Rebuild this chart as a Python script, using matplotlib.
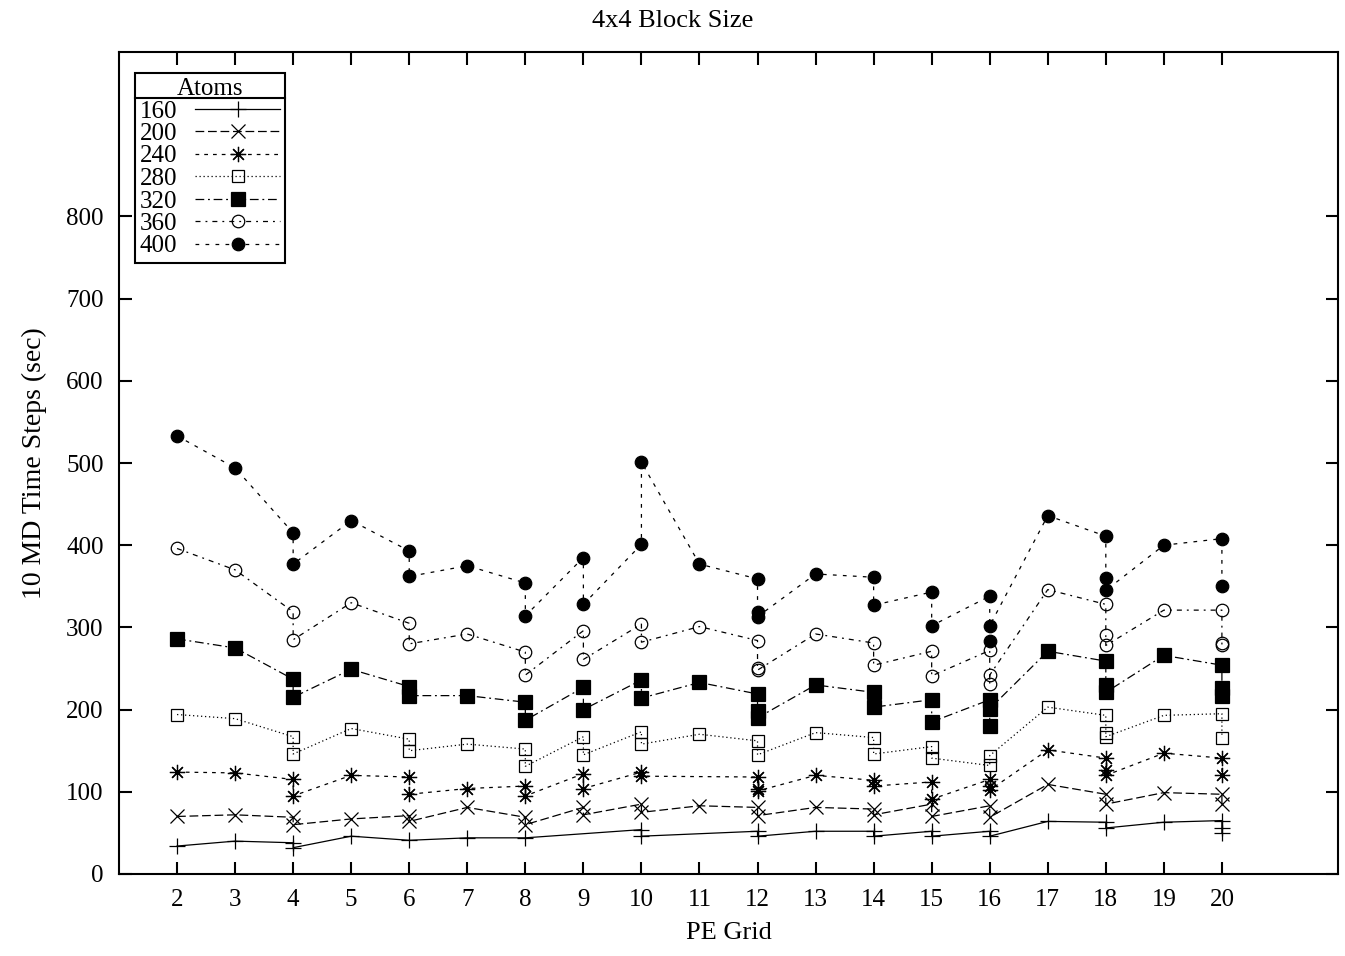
import numpy as np
import matplotlib
matplotlib.use('Agg')
import matplotlib.pyplot as plt
from matplotlib.lines import Line2D

plt.rcParams['font.family'] = ['Liberation Serif', 'DejaVu Serif']

# values, several runs per PE grid size
x160 = [2, 3, 4, 4, 5, 6, 7, 8, 10, 10, 12, 12, 13, 14, 14, 15, 15, 16, 16, 17, 18, 18, 19, 20, 20, 20]
y160 = [34, 40, 38, 32, 46, 41, 44, 44, 54, 46, 52, 46, 52, 52, 46, 52, 46, 52, 46, 64, 63, 56, 63, 65, 56, 50]

x200 = [2, 3, 4, 4, 5, 6, 6, 7, 8, 8, 9, 9, 10, 10, 11, 12, 12, 13, 14, 14, 15, 15, 16, 16, 17, 18, 18, 19, 20, 20]
y200 = [70, 72, 69, 60, 67, 71, 64, 81, 69, 60, 81, 72, 85, 75, 83, 81, 71, 81, 79, 72, 85, 70, 83, 69, 109, 97, 85, 99, 97, 85]

x240 = [2, 3, 4, 4, 5, 6, 6, 7, 8, 8, 9, 9, 10, 10, 12, 12, 12, 13, 14, 14, 15, 15, 16, 16, 16, 17, 18, 18, 18, 19, 20, 20]
y240 = [124, 123, 115, 95, 120, 118, 97, 104, 107, 95, 122, 104, 124, 119, 118, 104, 101, 120, 114, 107, 112, 91,
        115, 107, 102, 151, 141, 126, 120, 147, 141, 120]

x280 = [2, 3, 4, 4, 5, 6, 6, 7, 8, 8, 9, 9, 10, 10, 11, 12, 12, 13, 14, 14, 15, 15, 16, 16, 17, 18, 18, 18, 19, 20, 20]
y280 = [194, 189, 167, 146, 177, 164, 150, 158, 152, 131, 167, 145, 173, 158, 170, 162, 145, 172, 166, 146, 155, 141,
        132, 144, 203, 193, 171, 167, 193, 195, 166]

x320 = [2, 3, 4, 4, 5, 6, 6, 7, 8, 8, 9, 9, 10, 10, 11, 12, 12, 12, 13, 14, 14, 15, 15, 16, 16, 16, 17, 18, 18, 18,
        19, 20, 20, 20]
y320 = [286, 275, 237, 215, 249, 228, 217, 217, 209, 187, 227, 200, 236, 214, 233, 219, 198, 190, 230, 221, 203, 212,
        185, 212, 180, 201, 271, 259, 230, 221, 266, 254, 226, 216]

x360 = [2, 3, 4, 4, 5, 6, 6, 7, 8, 8, 9, 9, 10, 10, 11, 12, 12, 12, 13, 14, 14, 15, 15, 16, 16, 16, 17, 18, 18, 18,
        19, 20, 20, 20]
y360 = [396, 370, 319, 285, 330, 305, 280, 292, 270, 242, 296, 261, 304, 282, 301, 284, 251, 248, 292, 281, 254, 271,
        241, 272, 231, 242, 346, 328, 291, 278, 321, 321, 281, 279]

x400 = [2, 3, 4, 4, 5, 6, 6, 7, 8, 8, 9, 9, 10, 10, 11, 12, 12, 12, 13, 14, 14, 15, 15, 16, 16, 16, 17, 18, 18, 18,
        19, 20, 20]
y400 = [533, 494, 415, 377, 430, 393, 362, 375, 354, 314, 385, 328, 401, 501, 377, 359, 319, 313, 365, 361, 327, 343,
        302, 338, 284, 302, 436, 411, 360, 345, 400, 408, 350]

labels = ['160', '200', '240', '280', '320', '360', '400']
xs = [x160, x200, x240, x280, x320, x360, x400]
ys = [y160, y200, y240, y280, y320, y360, y400]

# gnuplot-ish point types and dash patterns
markers = ['+', 'x', (8, 2, 0), 's', 's', 'o', 'o']
filled = [True, True, True, False, True, False, True]
msizes = [11, 9.5, 11, 9, 9.5, 9, 9]
dashes = [None, (7, 3), (3, 4), (1, 2.2), (7, 3, 1.5, 3), (4, 4, 1.5, 4), (3, 5)]

fig = plt.figure(figsize=(13.45, 9.56), dpi=100)
ax = fig.add_axes([119 / 1345, 1 - 874 / 956, (1338 - 119) / 1345, (874 - 52) / 956])

for i in range(len(labels)):
    mfc = 'black' if filled[i] else 'none'
    line, = ax.plot(xs[i], ys[i], color='black', lw=0.9, marker=markers[i], markersize=msizes[i],
                    markerfacecolor=mfc, markeredgecolor='black', markeredgewidth=0.9, label=labels[i])
    if dashes[i] is not None:
        line.set_dashes(dashes[i])

ax.set_xlim(1, 22)
ax.set_ylim(0, 1000)
ax.set_xticks(np.arange(2, 21))
ax.set_yticks(np.arange(0, 801, 100))
ax.tick_params(direction='in', top=True, right=True, length=9, width=1.5, labelsize=18, pad=11)
for s in ax.spines.values():
    s.set_linewidth(1.5)

ax.set_xlabel('PE Grid', fontsize=19, labelpad=8)
ax.set_ylabel('10 MD Time Steps (sec)', fontsize=20, labelpad=14)
fig.text(0.5, 1 - 21 / 956, '4x4 Block Size', ha='center', va='center', fontsize=19)

leg = ax.legend(loc='upper left', bbox_to_anchor=(16 / 1219, 1 - 21 / 822), title='Atoms', markerfirst=False,
                fancybox=False, edgecolor='black', framealpha=1, fontsize=18, title_fontsize=18,
                borderaxespad=0, handlelength=3.4, handletextpad=0.7, labelspacing=0.0,
                borderpad=0.2, alignment='center')
leg.get_frame().set_linewidth(1.5)

# line under the legend title, like gnuplot's key title box
fig.canvas.draw()
tb = leg.get_title().get_window_extent()
fb = leg.get_frame().get_window_extent()
yline = tb.y0 + 2
inv = fig.transFigure.inverted()
p0 = inv.transform((fb.x0, yline))
p1 = inv.transform((fb.x1, yline))
fig.add_artist(Line2D([p0[0], p1[0]], [p0[1], p1[1]], color='black', lw=1.5))

fig.savefig('out.png', dpi=100)
